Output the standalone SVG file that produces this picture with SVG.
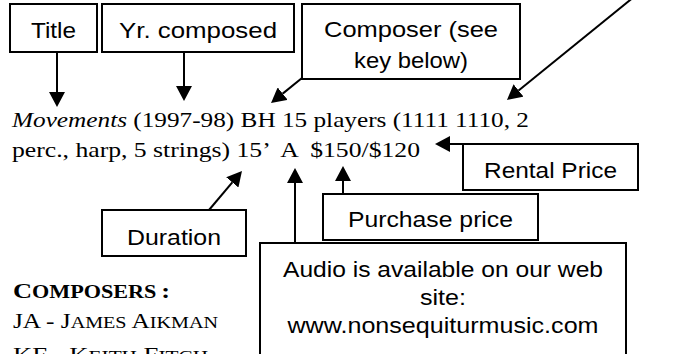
<svg xmlns="http://www.w3.org/2000/svg" width="679" height="354" viewBox="0 0 679 354">
<style>
.box{fill:#fff;stroke:#000;stroke-width:2}
.lbl{font-family:"Liberation Sans",Arial,sans-serif;font-size:22px;text-anchor:middle;fill:#000}
.ser{font-family:"Liberation Serif","Times New Roman",serif;font-size:22px;fill:#000;white-space:pre}
.con{fill:none;stroke:#000;stroke-width:2;marker-end:url(#ah)}
</style>
<defs>
<marker id="ah" viewBox="0 0 15 16" markerWidth="15" markerHeight="16" refX="0" refY="8" orient="auto" markerUnits="userSpaceOnUse">
<path d="M0,0 L15,8 L0,16 z" fill="#000"/>
</marker>
</defs>
<rect width="679" height="354" fill="#fff"/>
<g id="connectors">
<path class="con" d="M57,52 L57,92"/>
<path class="con" d="M184,52 L184,86"/>
<path class="con" d="M302,78 L282.7,93.6"/>
<path class="con" d="M640,-8 L518.6,90.5"/>
<path class="con" d="M472,144 L450,144"/>
<path class="con" d="M343,194 L343,181"/>
<path class="con" d="M295,243 L295,183"/>
<path class="con" d="M209,210 L232.3,182.4"/>
</g>
<g id="title"><rect class="box" x="10" y="4" width="87" height="48"/><text class="lbl" x="53.5" y="38" textLength="45" lengthAdjust="spacingAndGlyphs">Title</text></g>
<g id="year"><rect class="box" x="102" y="4" width="192" height="48"/><text class="lbl" x="198" y="38" textLength="158" lengthAdjust="spacingAndGlyphs">Yr. composed</text></g>
<g id="composer"><rect class="box" x="302" y="4" width="218" height="75"/><text class="lbl" x="411" y="37" textLength="174" lengthAdjust="spacingAndGlyphs">Composer (see</text><text class="lbl" x="411" y="68" textLength="114" lengthAdjust="spacingAndGlyphs">key below)</text></g>
<g id="rental"><rect class="box" x="463" y="144" width="175" height="46"/><text class="lbl" x="550.5" y="178" textLength="133" lengthAdjust="spacingAndGlyphs">Rental Price</text></g>
<g id="purchase"><rect class="box" x="323" y="194" width="215" height="46"/><text class="lbl" x="430.5" y="227" textLength="165" lengthAdjust="spacingAndGlyphs">Purchase price</text></g>
<g id="duration"><rect class="box" x="102" y="210" width="144" height="46"/><text class="lbl" x="174" y="245" textLength="94" lengthAdjust="spacingAndGlyphs">Duration</text></g>
<g id="audio"><rect class="box" x="260" y="243" width="366" height="130"/>
<text class="lbl" x="443" y="277" textLength="320" lengthAdjust="spacingAndGlyphs">Audio is available on our web</text>
<text class="lbl" x="443" y="305" textLength="46" lengthAdjust="spacingAndGlyphs">site:</text>
<text class="lbl" x="443" y="333" textLength="311" lengthAdjust="spacingAndGlyphs">www.nonsequiturmusic.com</text></g>
<g id="entry">
<text class="ser" x="12" y="127" textLength="517" lengthAdjust="spacingAndGlyphs"><tspan font-style="italic">Movements</tspan> (1997-98) BH 15 players (1111 1110, 2</text>
<text class="ser" x="12" y="157" textLength="408" lengthAdjust="spacingAndGlyphs">perc., harp, 5 strings) 15’  A  $150/$120</text>
</g>
<g id="key">
<text class="ser" x="13" y="298" font-weight="bold" font-size="23" textLength="157" lengthAdjust="spacingAndGlyphs">C<tspan font-size="18.5">OMPOSERS</tspan><tspan dx="4">:</tspan></text>
<text class="ser" x="13" y="328" textLength="205" lengthAdjust="spacingAndGlyphs">JA - J<tspan font-size="17.5">AMES</tspan> A<tspan font-size="17.5">IKMAN</tspan></text>
<text class="ser" x="13" y="362" textLength="195" lengthAdjust="spacingAndGlyphs">KF - K<tspan font-size="17.5">EITH</tspan> F<tspan font-size="17.5">ITCH</tspan></text>
</g>
</svg>
